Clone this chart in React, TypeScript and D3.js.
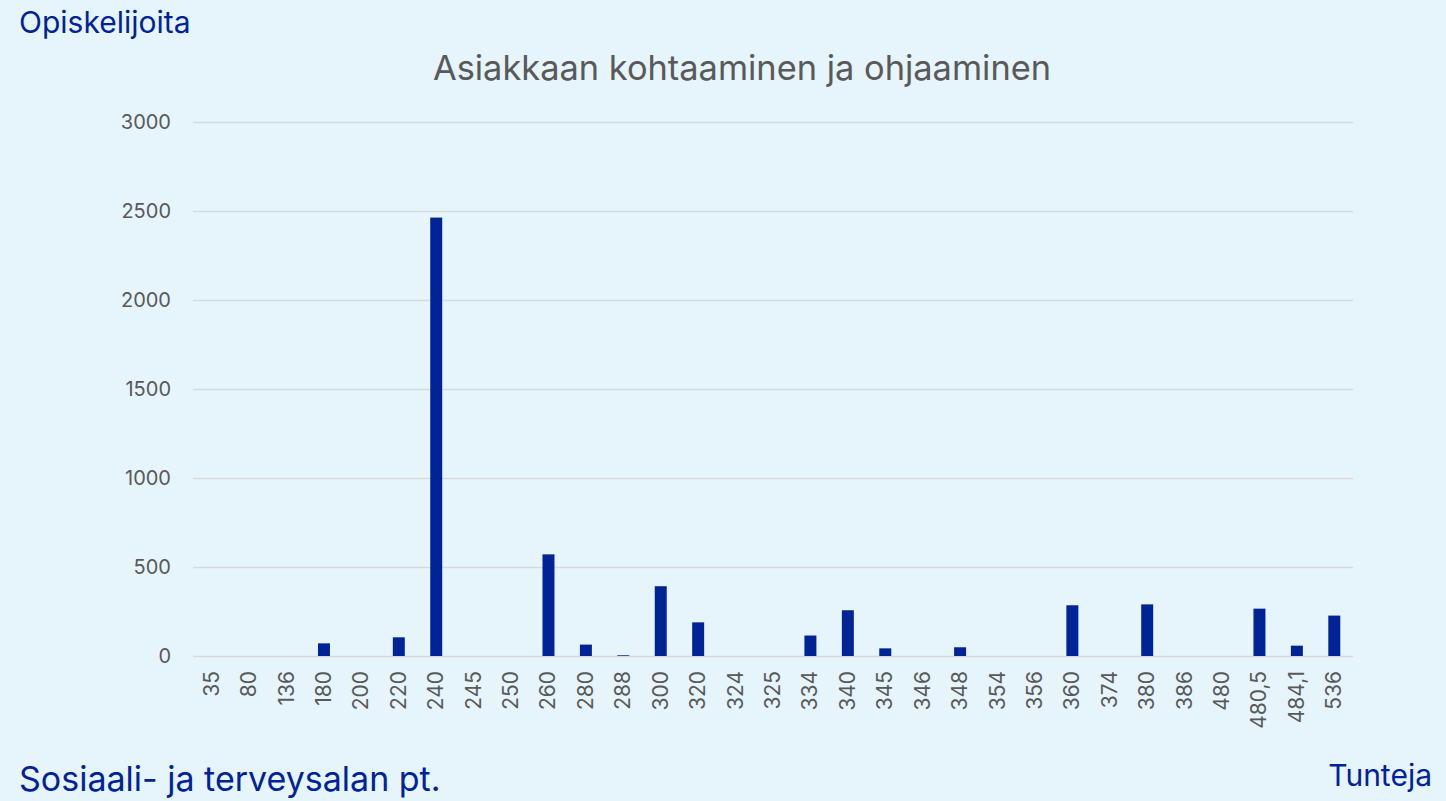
import { useEffect, useRef } from 'react';
import { axisLeft, max, scaleBand, scaleLinear, select } from 'd3';

const hours = [
  '35', '80', '136', '180', '200', '220', '240', '245', '250', '260', '280',
  '288', '300', '320', '324', '325', '334', '340', '345', '346', '348', '354',
  '356', '360', '374', '380', '386', '480', '480,5', '484,1', '536',
];
const students = [
  0, 0, 0, 71, 0, 105, 2463, 0, 0, 571, 64, 4, 392, 189, 0, 0, 115, 257, 43,
  0, 49, 0, 0, 285, 0, 290, 0, 0, 266, 58, 227,
];
const yTicks = [0, 500, 1000, 1500, 2000, 2500, 3000];

const chartTitle = 'Asiakkaan kohtaaminen ja ohjaaminen';
const yTitle = 'Opiskelijoita';
const xTitle = 'Tunteja';
const footer = 'Sosiaali- ja terveysalan pt.';

export default function App() {
  const svgRef = useRef<SVGSVGElement>(null);

  useEffect(() => {
    const el = svgRef.current;
    if (!el) return;
    const width = 1446,
      height = 801;
    const left = 193,
      right = 1353,
      top = 122,
      bottom = 656;
    const font = 'Inter, "Open Sans", sans-serif';

    const svg = select(el);
    svg.selectAll('*').remove();

    svg
      .append('rect')
      .attr('width', width)
      .attr('height', height)
      .attr('fill', '#E6F4FC');

    const x = scaleBand<string>()
      .domain(hours)
      .range([left, right])
      .paddingInner(0.68)
      .paddingOuter(0.34);
    const y = scaleLinear()
      .domain([0, max(yTicks) as number])
      .range([bottom, top]);

    // gridlines + y labels
    const yAxis = svg
      .append('g')
      .attr('transform', `translate(${left},0)`)
      .call(
        axisLeft(y)
          .tickValues(yTicks)
          .tickFormat((d) => String(d))
          .tickSize(-(right - left))
          .tickPadding(22)
      );
    yAxis.select('.domain').remove();
    yAxis
      .selectAll('line')
      .attr('stroke', '#D9D9D9')
      .attr('stroke-width', 1.5);
    yAxis
      .selectAll('text')
      .attr('fill', '#595959')
      .attr('font-size', 20)
      .attr('font-family', font);

    // bars
    svg
      .append('g')
      .selectAll('rect')
      .data(hours.map((h, i) => ({ h, v: students[i] })))
      .join('rect')
      .attr('x', (d) => x(d.h) as number)
      .attr('width', x.bandwidth())
      .attr('y', (d) => y(d.v))
      .attr('height', (d) => bottom - y(d.v))
      .attr('fill', '#002395');

    // x labels, rotated
    svg
      .append('g')
      .attr('font-family', font)
      .attr('font-size', 21)
      .attr('fill', '#595959')
      .attr('text-anchor', 'end')
      .selectAll('text')
      .data(hours)
      .join('text')
      .attr(
        'transform',
        (d) =>
          `translate(${(x(d) as number) + x.bandwidth() / 2 + 7},${bottom + 15}) rotate(-90)`
      )
      .text((d) => d);

    svg
      .append('text')
      .attr('x', (left + right) / 2 - 31)
      .attr('y', 80)
      .attr('text-anchor', 'middle')
      .attr('font-family', font)
      .attr('font-size', 34.4)
      .attr('fill', '#595959')
      .text(chartTitle);

    const blue = '#00239C';
    svg
      .append('text')
      .attr('x', 19)
      .attr('y', 33)
      .attr('font-family', font)
      .attr('font-size', 30)
      .attr('fill', blue)
      .text(yTitle);
    svg
      .append('text')
      .attr('x', 1432)
      .attr('y', 786)
      .attr('text-anchor', 'end')
      .attr('font-family', font)
      .attr('font-size', 30)
      .attr('fill', blue)
      .text(xTitle);
    svg
      .append('text')
      .attr('x', 19)
      .attr('y', 791)
      .attr('font-family', font)
      .attr('font-size', 34)
      .attr('fill', blue)
      .text(footer);
  }, []);

  return (
    <svg
      ref={svgRef}
      width={1446}
      height={801}
      style={{ position: 'absolute', left: 0, top: 0, display: 'block' }}
    />
  );
}
